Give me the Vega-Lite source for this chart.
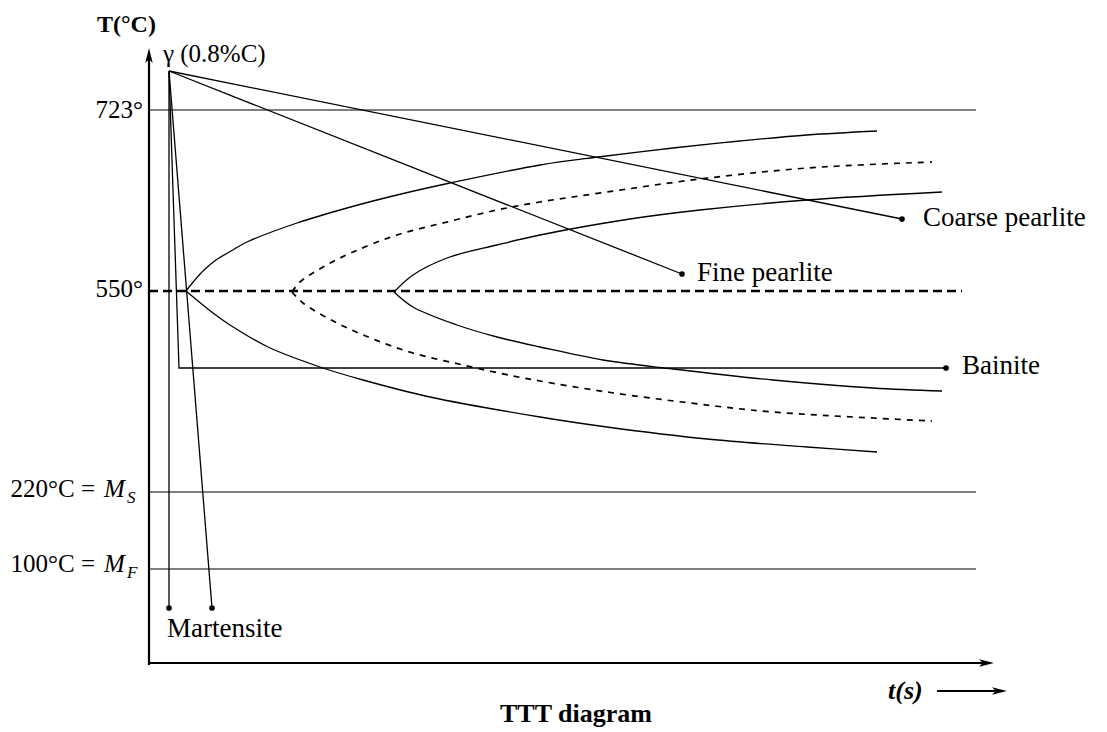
{
  "$schema": "https://vega.github.io/schema/vega-lite/v6.json",
  "width": 1107,
  "height": 732,
  "padding": 0,
  "autosize": "none",
  "background": "white",
  "config": {"view": {"stroke": null}},
  "encoding": {
    "x": {"field": "t", "type": "quantitative", "scale": {"domain": [-149, 958], "nice": false, "zero": false}, "axis": null},
    "y": {"field": "T", "type": "quantitative", "scale": {"domain": [-69, 663], "nice": false, "zero": false}, "axis": null}
  },
  "layer": [
    {
      "data": {"values": [
        {"id": "h723", "o": 0, "t": 0, "T": 553}, {"id": "h723", "o": 1, "t": 827, "T": 553},
        {"id": "h220", "o": 0, "t": 0, "T": 171}, {"id": "h220", "o": 1, "t": 827, "T": 171},
        {"id": "h100", "o": 0, "t": 0, "T": 94}, {"id": "h100", "o": 1, "t": 827, "T": 94}
      ]},
      "mark": {"type": "line", "color": "black", "strokeWidth": 1.1},
      "encoding": {"detail": {"field": "id"}, "order": {"field": "o"}}
    },
    {
      "data": {"values": [
        {"id": "coarse", "o": 0, "t": 20, "T": 592}, {"id": "coarse", "o": 1, "t": 753, "T": 444},
        {"id": "fine", "o": 0, "t": 20, "T": 592}, {"id": "fine", "o": 1, "t": 533, "T": 389},
        {"id": "bain", "o": 0, "t": 20, "T": 592}, {"id": "bain", "o": 1, "t": 30, "T": 295}, {"id": "bain", "o": 2, "t": 797, "T": 295},
        {"id": "mart1", "o": 0, "t": 20, "T": 592}, {"id": "mart1", "o": 1, "t": 20, "T": 55},
        {"id": "mart2", "o": 0, "t": 20, "T": 592}, {"id": "mart2", "o": 1, "t": 63, "T": 55}
      ]},
      "mark": {"type": "line", "color": "black", "strokeWidth": 1.3},
      "encoding": {"detail": {"field": "id"}, "order": {"field": "o"}}
    },
    {
      "data": {"values": [
        {"id": "c1u", "o": 0, "t": 37, "T": 372}, {"id": "c1u", "o": 1, "t": 45, "T": 382}, {"id": "c1u", "o": 2, "t": 55, "T": 393},
        {"id": "c1u", "o": 3, "t": 67, "T": 403}, {"id": "c1u", "o": 4, "t": 82, "T": 412}, {"id": "c1u", "o": 5, "t": 98, "T": 421},
        {"id": "c1u", "o": 6, "t": 148, "T": 440}, {"id": "c1u", "o": 7, "t": 198, "T": 455},
        {"id": "c1u", "o": 8, "t": 248, "T": 468}, {"id": "c1u", "o": 9, "t": 301, "T": 480}, {"id": "c1u", "o": 10, "t": 391, "T": 498},
        {"id": "c1u", "o": 11, "t": 449, "T": 506}, {"id": "c1u", "o": 12, "t": 524, "T": 515}, {"id": "c1u", "o": 13, "t": 591, "T": 522},
        {"id": "c1u", "o": 14, "t": 658, "T": 528}, {"id": "c1u", "o": 15, "t": 728, "T": 532},
        {"id": "c1l", "o": 0, "t": 37, "T": 372}, {"id": "c1l", "o": 1, "t": 64, "T": 350}, {"id": "c1l", "o": 2, "t": 81, "T": 338},
        {"id": "c1l", "o": 3, "t": 119, "T": 316}, {"id": "c1l", "o": 4, "t": 174, "T": 295}, {"id": "c1l", "o": 5, "t": 214, "T": 283},
        {"id": "c1l", "o": 6, "t": 281, "T": 266}, {"id": "c1l", "o": 7, "t": 391, "T": 246}, {"id": "c1l", "o": 8, "t": 458, "T": 236},
        {"id": "c1l", "o": 9, "t": 558, "T": 224}, {"id": "c1l", "o": 10, "t": 658, "T": 216}, {"id": "c1l", "o": 11, "t": 728, "T": 211},
        {"id": "c3u", "o": 0, "t": 245, "T": 371}, {"id": "c3u", "o": 1, "t": 264, "T": 388}, {"id": "c3u", "o": 2, "t": 298, "T": 405},
        {"id": "c3u", "o": 3, "t": 348, "T": 418}, {"id": "c3u", "o": 4, "t": 391, "T": 428}, {"id": "c3u", "o": 5, "t": 481, "T": 444},
        {"id": "c3u", "o": 6, "t": 551, "T": 453}, {"id": "c3u", "o": 7, "t": 658, "T": 463}, {"id": "c3u", "o": 8, "t": 793, "T": 471},
        {"id": "c3l", "o": 0, "t": 245, "T": 371}, {"id": "c3l", "o": 1, "t": 264, "T": 356}, {"id": "c3l", "o": 2, "t": 308, "T": 338},
        {"id": "c3l", "o": 3, "t": 348, "T": 326}, {"id": "c3l", "o": 4, "t": 391, "T": 316}, {"id": "c3l", "o": 5, "t": 454, "T": 303},
        {"id": "c3l", "o": 6, "t": 524, "T": 294}, {"id": "c3l", "o": 7, "t": 624, "T": 283}, {"id": "c3l", "o": 8, "t": 724, "T": 275},
        {"id": "c3l", "o": 9, "t": 793, "T": 272}
      ]},
      "mark": {"type": "line", "color": "black", "strokeWidth": 1.3, "interpolate": "catmull-rom"},
      "encoding": {"detail": {"field": "id"}, "order": {"field": "o"}}
    },
    {
      "data": {"values": [
        {"id": "c2u", "o": 0, "t": 143, "T": 371}, {"id": "c2u", "o": 1, "t": 151, "T": 381}, {"id": "c2u", "o": 2, "t": 174, "T": 396},
        {"id": "c2u", "o": 3, "t": 204, "T": 411}, {"id": "c2u", "o": 4, "t": 248, "T": 428}, {"id": "c2u", "o": 5, "t": 298, "T": 441},
        {"id": "c2u", "o": 6, "t": 348, "T": 453}, {"id": "c2u", "o": 7, "t": 391, "T": 461}, {"id": "c2u", "o": 8, "t": 458, "T": 471},
        {"id": "c2u", "o": 9, "t": 551, "T": 484}, {"id": "c2u", "o": 10, "t": 658, "T": 495}, {"id": "c2u", "o": 11, "t": 783, "T": 501},
        {"id": "c2l", "o": 0, "t": 143, "T": 371}, {"id": "c2l", "o": 1, "t": 154, "T": 360}, {"id": "c2l", "o": 2, "t": 188, "T": 340},
        {"id": "c2l", "o": 3, "t": 224, "T": 324}, {"id": "c2l", "o": 4, "t": 264, "T": 310}, {"id": "c2l", "o": 5, "t": 314, "T": 298},
        {"id": "c2l", "o": 6, "t": 364, "T": 287}, {"id": "c2l", "o": 7, "t": 391, "T": 282}, {"id": "c2l", "o": 8, "t": 458, "T": 271},
        {"id": "c2l", "o": 9, "t": 541, "T": 260}, {"id": "c2l", "o": 10, "t": 624, "T": 251}, {"id": "c2l", "o": 11, "t": 783, "T": 242}
      ]},
      "mark": {"type": "line", "color": "black", "strokeWidth": 1.7, "strokeDash": [6, 6], "interpolate": "catmull-rom"},
      "encoding": {"detail": {"field": "id"}, "order": {"field": "o"}}
    },
    {
      "data": {"values": [{"o": 0, "t": 0, "T": 372}, {"o": 1, "t": 813, "T": 372}]},
      "mark": {"type": "line", "color": "black", "strokeWidth": 2.6, "strokeDash": [9, 5]},
      "encoding": {"order": {"field": "o"}}
    },
    {
      "data": {"values": [
        {"id": "yax", "o": 0, "t": 0, "T": -2}, {"id": "yax", "o": 1, "t": 0, "T": 608},
        {"id": "xax", "o": 0, "t": -1, "T": 0}, {"id": "xax", "o": 1, "t": 838, "T": 0},
        {"id": "tarr", "o": 0, "t": 788, "T": -28}, {"id": "tarr", "o": 1, "t": 851, "T": -28}
      ]},
      "mark": {"type": "line", "color": "black", "strokeWidth": 2.2},
      "encoding": {"detail": {"field": "id"}, "order": {"field": "o"}}
    },
    {
      "data": {"values": [{"t": 0, "T": 607.5}]},
      "mark": {"type": "point", "filled": true, "color": "black", "opacity": 1, "size": 225, "shape": "M0,-1L0.5,1L0,0.5L-0.5,1Z"}
    },
    {
      "data": {"values": [{"t": 837.5, "T": 0}, {"t": 850.5, "T": -28}]},
      "mark": {"type": "point", "filled": true, "color": "black", "opacity": 1, "size": 225, "shape": "M1,0L-1,-0.5L-0.5,0L-1,0.5Z"}
    },
    {
      "data": {"values": [{"t": 20, "T": 55}, {"t": 63, "T": 55}, {"t": 533, "T": 389}, {"t": 753, "T": 444}, {"t": 797, "T": 295}]},
      "mark": {"type": "point", "filled": true, "color": "black", "opacity": 1, "size": 32, "shape": "circle"}
    },
    {
      "data": {"values": [
        {"label": "723°", "t": -6, "T": 545},
        {"label": "550°", "t": -6, "T": 366},
        {"label": "220°C =", "t": -54, "T": 166},
        {"label": "100°C =", "t": -54, "T": 91}
      ]},
      "mark": {"type": "text", "align": "right", "baseline": "alphabetic", "font": "Liberation Serif", "fontSize": 25, "color": "black"},
      "encoding": {"text": {"field": "label"}}
    },
    {
      "data": {"values": [
        {"label": "M", "t": -45, "T": 166},
        {"label": "M", "t": -45, "T": 91}
      ]},
      "mark": {"type": "text", "align": "left", "baseline": "alphabetic", "font": "Liberation Serif", "fontStyle": "italic", "fontSize": 25, "color": "black"},
      "encoding": {"text": {"field": "label"}}
    },
    {
      "data": {"values": [
        {"label": "S", "t": -22, "T": 160},
        {"label": "F", "t": -22, "T": 85}
      ]},
      "mark": {"type": "text", "align": "left", "baseline": "alphabetic", "font": "Liberation Serif", "fontStyle": "italic", "fontSize": 17, "color": "black"},
      "encoding": {"text": {"field": "label"}}
    },
    {
      "data": {"values": [
        {"label": "γ (0.8%C)", "t": 14, "T": 601}
      ]},
      "mark": {"type": "text", "align": "left", "baseline": "alphabetic", "font": "Liberation Serif", "fontSize": 25, "color": "black"},
      "encoding": {"text": {"field": "label"}}
    },
    {
      "data": {"values": [
        {"label": "Martensite", "t": 18, "T": 26},
        {"label": "Fine pearlite", "t": 548, "T": 382},
        {"label": "Coarse pearlite", "t": 774, "T": 437},
        {"label": "Bainite", "t": 813, "T": 289}
      ]},
      "mark": {"type": "text", "align": "left", "baseline": "alphabetic", "font": "Liberation Serif", "fontSize": 27, "color": "black"},
      "encoding": {"text": {"field": "label"}}
    },
    {
      "data": {"values": [
        {"label": "T(°C)", "t": -52, "T": 631}
      ]},
      "mark": {"type": "text", "align": "left", "baseline": "alphabetic", "font": "Liberation Serif", "fontWeight": "bold", "fontSize": 24, "color": "black"},
      "encoding": {"text": {"field": "label"}}
    },
    {
      "data": {"values": [
        {"label": "TTT diagram", "t": 351, "T": -59}
      ]},
      "mark": {"type": "text", "align": "left", "baseline": "alphabetic", "font": "Liberation Serif", "fontWeight": "bold", "fontSize": 26, "color": "black"},
      "encoding": {"text": {"field": "label"}}
    },
    {
      "data": {"values": [
        {"label": "t(s)", "t": 739, "T": -36}
      ]},
      "mark": {"type": "text", "align": "left", "baseline": "alphabetic", "font": "Liberation Serif", "fontWeight": "bold", "fontStyle": "italic", "fontSize": 26, "color": "black"},
      "encoding": {"text": {"field": "label"}}
    }
  ]
}
